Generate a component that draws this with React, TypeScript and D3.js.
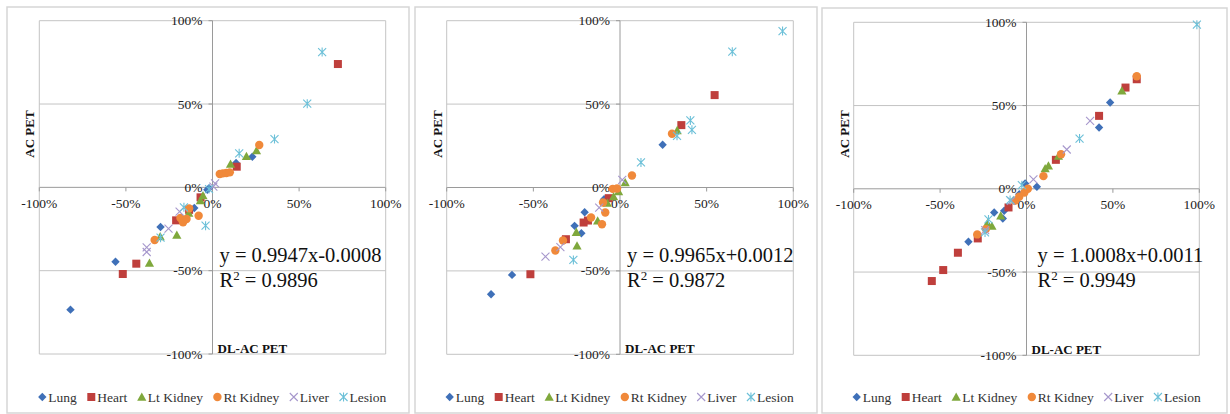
import React, { useEffect, useRef } from "react";
import * as d3 from "d3";

type Pt = [number, number];

const seriesNames = ["Lung", "Heart", "Lt Kidney", "Rt Kidney", "Liver", "Lesion"];
const seriesColors = ["#3f70b8", "#bf3f3c", "#7fa83c", "#f0893a", "#a697cc", "#6cc0d8"];
const seriesShapes = ["diamond", "square", "triangle", "circle", "x", "star"];

const xTicks = [-100, -50, 0, 50, 100];
const yTicks = [-100, -50, 0, 50, 100];

// Panel 1
const lung1: Pt[] = [[-82, -73.4], [-56, -44.6], [-30, -23.8], [-10.5, -12.4], [-3, -1.4], [-2, -0.5], [13.6, 14.6], [23, 18.4]];
const heart1: Pt[] = [[72.4, 74], [-51.8, -52], [-44, -45.8], [-6.9, -6], [-21, -19.8], [-13.5, -13.5], [14, 12.4]];
const ltk1: Pt[] = [[-36.4, -45.4], [-20.6, -28.6], [-30.2, -29.6], [-13.7, -15.4], [-7, -8], [-5.5, -5], [10.4, 14], [19.6, 18.6], [25.4, 22]];
const rtk1: Pt[] = [[27, 25.4], [4.2, 8], [6, 8.4], [8, 8.6], [10, 9], [-13.5, -12.6], [-18.5, -18.4], [-17, -21], [-15, -19], [-8, -17], [-33.4, -31.6]];
const liver1: Pt[] = [[1.5, 2.4], [0.5, 0.5], [-25.4, -24.8], [-38, -36], [-38, -38.8], [-19, -14.6]];
const lesion1: Pt[] = [[63.3, 81.2], [54.7, 50.2], [35.8, 29], [15.4, 20.4], [-4, -23], [-30, -30.2], [-16.5, -12], [-2, -1]];

// Panel 2
const lung2: Pt[] = [[-74.4, -64], [-62.3, -52.4], [-20.4, -14.8], [-26.2, -23], [-22.3, -27.4], [24.6, 25.6], [-9.2, -7]];
const heart2: Pt[] = [[54.6, 55.4], [35.4, 37.4], [-51.7, -52], [-31.2, -31], [-21, -21], [-18.5, -19.8], [-6.5, -6.4]];
const ltk2: Pt[] = [[33, 34.2], [-24.8, -35], [-25.2, -26.8], [-12.9, -20], [-7.3, -9.4], [-3.7, -5.4], [-0.8, -2.4], [3, 3]];
const rtk2: Pt[] = [[30, 32.2], [6.9, 7.2], [-37.3, -37.8], [-32.9, -31.8], [-16.7, -18], [-10.4, -22], [-8.5, -15], [-9.8, -9], [-4.2, -0.8], [-1.7, -0.6]];
const liver2: Pt[] = [[-43, -41.4], [-34.4, -35.8], [1.3, 4.6], [-12, -12]];
const lesion2: Pt[] = [[93.8, 93.8], [64.8, 81.4], [40.6, 40.2], [41.5, 34.6], [32.9, 31], [12.1, 15], [-26.9, -43.4]];

// Panel 3
const lung3: Pt[] = [[48.4, 51.8], [42, 36.8], [-33.6, -31.8], [-18.7, -14.2], [-13.7, -17.8], [-12.9, -13.2], [-0.8, 3.2], [6, 1.2], [-4.2, -3.2]];
const heart3: Pt[] = [[63.8, 65.8], [57.3, 60.8], [42, 43.8], [17, 17.4], [-39.7, -38.4], [-48.2, -48.8], [-54.8, -55.4], [-10.4, -11.2], [-28.2, -29.8]];
const ltk3: Pt[] = [[55.2, 58.8], [12.7, 13.8], [10.8, 12.2], [18.5, 19.6], [-14.9, -16.2], [-20, -22.4], [-22.6, -20.8]];
const rtk3: Pt[] = [[63.8, 67.6], [20, 20.8], [9.8, 7.6], [-28.5, -27.4], [-23.5, -24.2], [-6.6, -7.2], [-4.2, -4.8], [-1.2, -2.2], [0.8, 0]];
const liver3: Pt[] = [[36.8, 40.8], [23.3, 23.6], [4, 5.6], [-23.9, -24.8], [-8.9, -7.2]];
const lesion3: Pt[] = [[98.6, 98.6], [30.7, 30.2], [-2.7, 2.2], [-9.5, -6.8], [-22, -18.4], [-24, -26.2]];

const equations = ["y = 0.9947x-0.0008", "y = 0.9965x+0.0012", "y = 1.0008x+0.0011"];
const r2Values = ["0.9896", "0.9872", "0.9949"];

const panelData: Pt[][][] = [
  [lung1, heart1, ltk1, rtk1, liver1, lesion1],
  [lung2, heart2, ltk2, rtk2, liver2, lesion2],
  [lung3, heart3, ltk3, rtk3, liver3, lesion3],
];

const layouts = [
  { box: [7, 7, 409, 413], x0: 39.3, x1: 385.7, y0: 20.7, y1: 354, eqDx: 7 },
  { box: [415, 7, 817, 413], x0: 446.7, x1: 793.3, y0: 20.7, y1: 354.3, eqDx: 7 },
  { box: [822, 8, 1227, 413], x0: 853.7, x1: 1199.3, y0: 22.3, y1: 355.3, eqDx: 11 },
];

const FONT = "Liberation Serif, Times New Roman, Times, serif";

function drawMarker(g: any, shape: string, color: string, x: number, y: number) {
  if (shape === "diamond") {
    const s = 4.2;
    g.append("path").attr("d", `M${x},${y - s}L${x + s},${y}L${x},${y + s}L${x - s},${y}Z`).attr("fill", color);
  } else if (shape === "square") {
    g.append("rect").attr("x", x - 4).attr("y", y - 4).attr("width", 8).attr("height", 8).attr("fill", color);
  } else if (shape === "triangle") {
    const s = 4.6;
    g.append("path").attr("d", `M${x},${y - s}L${x + s},${y + s * 0.8}L${x - s},${y + s * 0.8}Z`).attr("fill", color);
  } else if (shape === "circle") {
    g.append("circle").attr("cx", x).attr("cy", y).attr("r", 4.2).attr("fill", color);
  } else if (shape === "x") {
    const s = 4;
    g.append("path").attr("d", `M${x - s},${y - s}L${x + s},${y + s}M${x - s},${y + s}L${x + s},${y - s}`)
      .attr("stroke", color).attr("stroke-width", 1.1).attr("fill", "none");
  } else if (shape === "star") {
    const s = 4;
    g.append("path").attr("d", `M${x - s},${y - s}L${x + s},${y + s}M${x - s},${y + s}L${x + s},${y - s}M${x},${y - s - 0.5}L${x},${y + s + 0.5}`)
      .attr("stroke", color).attr("stroke-width", 1.1).attr("fill", "none");
  }
}

function txt(g: any) {
  return g.append("text").style("font-family", FONT);
}

export default function App() {
  const ref = useRef<SVGSVGElement>(null);

  useEffect(() => {
    const svg = d3.select(ref.current);
    svg.selectAll("*").remove();
    svg.append("rect").attr("width", 1230).attr("height", 414).attr("fill", "#fff");

    layouts.forEach((L, pi) => {
      const g = svg.append("g");
      const [bx0, by0, bx1, by1] = L.box;
      g.append("rect").attr("x", bx0).attr("y", by0).attr("width", bx1 - bx0).attr("height", by1 - by0)
        .attr("fill", "#fff").attr("stroke", "#d6d6d6").attr("stroke-width", 1.5);

      const x = d3.scaleLinear().domain([-100, 100]).range([L.x0, L.x1]);
      const y = d3.scaleLinear().domain([-100, 100]).range([L.y1, L.y0]);

      yTicks.forEach((t) => {
        g.append("line").attr("x1", L.x0).attr("x2", L.x1).attr("y1", y(t)).attr("y2", y(t))
          .attr("stroke", t === 0 ? "#9a9a9a" : "#c4c4c4").attr("stroke-width", 1);
      });
      [L.x0, L.x1].forEach((xx) => {
        g.append("line").attr("x1", xx).attr("x2", xx).attr("y1", L.y0).attr("y2", L.y1)
          .attr("stroke", "#c4c4c4").attr("stroke-width", 1);
      });
      g.append("line").attr("x1", x(0)).attr("x2", x(0)).attr("y1", L.y0).attr("y2", L.y1)
        .attr("stroke", "#9a9a9a").attr("stroke-width", 1);
      xTicks.forEach((t) => {
        g.append("line").attr("x1", x(t)).attr("x2", x(t)).attr("y1", y(0)).attr("y2", y(0) + 4)
          .attr("stroke", "#9a9a9a");
      });
      yTicks.forEach((t) => {
        g.append("line").attr("x1", x(0) - 4).attr("x2", x(0)).attr("y1", y(t)).attr("y2", y(t))
          .attr("stroke", "#9a9a9a");
      });

      xTicks.forEach((t) => {
        txt(g).attr("x", x(t)).attr("y", y(0) + 20.5).attr("text-anchor", "middle")
          .attr("font-size", 13.5).attr("fill", "#222").text(`${t}%`);
      });
      yTicks.forEach((t) => {
        txt(g).attr("x", x(0) - 10).attr("y", y(t) + 4.5).attr("text-anchor", "end")
          .attr("font-size", 13.5).attr("fill", "#222").text(`${t}%`);
      });

      txt(g).attr("transform", `translate(${L.x0 - 5},${134}) rotate(-90)`)
        .attr("text-anchor", "middle").attr("font-size", 13)
        .attr("font-weight", "bold").attr("fill", "#111").text("AC PET");
      txt(g).attr("x", x(0) + 5).attr("y", L.y1 - 1)
        .attr("font-size", 13).attr("font-weight", "bold").attr("fill", "#111").text("DL-AC PET");

      panelData[pi].forEach((pts, si) => {
        const sg = g.append("g");
        pts.forEach(([px, py]) => drawMarker(sg, seriesShapes[si], seriesColors[si], x(px), y(py)));
      });

      txt(g).attr("x", x(0) + L.eqDx).attr("y", 262)
        .attr("font-size", 20.5).attr("fill", "#111").text(equations[pi]);
      const r2 = txt(g).attr("x", x(0) + L.eqDx).attr("y", 286.5)
        .attr("font-size", 20.5).attr("fill", "#111");
      r2.append("tspan").text("R");
      r2.append("tspan").attr("font-size", 13).attr("dy", -7).text("2");
      r2.append("tspan").attr("dy", 7).text(` = ${r2Values[pi]}`);

      let lx = L.x0 + 3;
      const ly = 397;
      seriesNames.forEach((name, si) => {
        drawMarker(g, seriesShapes[si], seriesColors[si], lx, ly);
        const t = txt(g).attr("x", lx + 6).attr("y", ly + 4.5)
          .attr("font-size", 13.5).attr("fill", "#333").text(name);
        const w = (t.node() as SVGTextElement).getComputedTextLength();
        lx = lx + 6 + w + 14.5;
      });
    });
  }, []);

  return (
    <svg ref={ref} width={1230} height={414} style={{ position: "absolute", left: 0, top: 0 }} />
  );
}
